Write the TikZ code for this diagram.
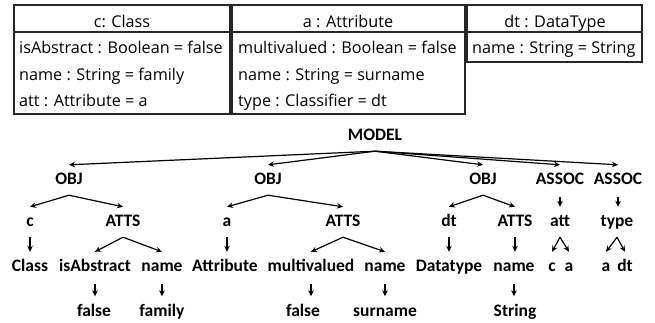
\documentclass[tikz,border=0pt]{standalone}
\usepackage{fontspec}
\setmainfont{Open Sans}
\newfontfamily\trf{Carlito}
\usetikzlibrary{arrows.meta}
\begin{document}
\begin{tikzpicture}[x=1pt,y=-1pt,
  tn/.style={font=\trf\bfseries\fontsize{17.5}{20}\selectfont, inner xsep=0pt, inner ysep=0pt, text height=12pt, text depth=3pt, minimum height=30pt},
  ar/.style={-{Stealth[length=6pt,width=5.5pt]}, line width=1.2pt},
  sar/.style={ar, shorten >=0.5pt, shorten <=2pt},
  aar/.style={ar, shorten <=2pt},
  bx/.style={line width=1.1pt, draw=black!85},
  bt/.style={font=\fontsize{16.2}{19}\selectfont, inner sep=0pt, anchor=base west},
  bh/.style={font=\fontsize{16.2}{19}\selectfont, inner sep=0pt, anchor=base}]
\useasboundingbox (0,0) rectangle (655,322);
% boxes
\draw[bx] (14,5) rectangle (230,114) (14,32) -- (230,32);
\draw[bx] (232,5) rectangle (465,114) (232,32) -- (465,32);
\draw[bx] (467,5) rectangle (642,62) (467,32) -- (642,32);
\node[bh] (h1) at (122,27) {c: Class};
\node[bt] (r11) at (19,53) {isAbstract : Boolean = false};
\node[bt] (r12) at (19,80) {name : String = family};
\node[bt] (r13) at (19,106) {att : Attribute = a};
\node[bh] (h2) at (348,27) {a : Attribute};
\node[bt] (r21) at (238,53) {multivalued : Boolean = false};
\node[bt] (r22) at (238,80) {name : String = surname};
\node[bt] (r23) at (238,106) {type : Classifier = dt};
\node[bh] (h3) at (555,27) {dt : DataType};
\node[bt] (r31) at (472,53) {name : String = String};
% tree
\node[tn] (model) at (375,136) {MODEL};
\node[tn] (obj1) at (69,180) {OBJ};
\node[tn] (obj2) at (268,180) {OBJ};
\node[tn] (obj3) at (483,180) {OBJ};
\node[tn] (as1) at (560,180) {ASSOC};
\node[tn] (as2) at (618,180) {ASSOC};
\node[tn] (c) at (30,222) {c};
\node[tn] (atts1) at (123,222) {ATTS};
\node[tn] (a) at (227,222) {a};
\node[tn] (atts2) at (343,222) {ATTS};
\node[tn] (dt) at (449,222) {dt};
\node[tn] (atts3) at (515,222) {ATTS};
\node[tn] (att) at (560,222) {att};
\node[tn] (type) at (617,222) {type};
\node[tn] (class) at (30,267) {Class};
\node[tn] (isab) at (95,267) {isAbstract};
\node[tn] (name1) at (162,267) {name};
\node[tn] (attr) at (225,267) {Attribute};
\node[tn] (multi) at (311,267) {multivalued};
\node[tn] (name2) at (385,267) {name};
\node[tn] (datat) at (449,267) {Datatype};
\node[tn] (name3) at (514,267) {name};
\node[tn] (c2) at (552,267) {c};
\node[tn] (a2) at (569,267) {a};
\node[tn] (a3) at (606,267) {a};
\node[tn] (dt2) at (625,267) {dt};
\node[tn] (false1) at (94,312) {false};
\node[tn] (family) at (162,312) {family};
\node[tn] (false2) at (303,312) {false};
\node[tn] (surname) at (385,312) {surname};
\node[tn] (string) at (515,312) {String};
% connectors
\foreach \t in {obj1,obj2,obj3,as1,as2} \draw[ar] (model.south) -- (\t.north);
\draw[ar] (obj1.south) -- (c.north);
\draw[ar] (obj1.south) -- (atts1.north);
\draw[ar] (obj2.south) -- (a.north);
\draw[ar] (obj2.south) -- (atts2.north);
\draw[ar] (obj3.south) -- (dt.north);
\draw[ar] (obj3.south) -- (atts3.north);
\draw[aar] (as1.south) -- (as1.south |- att.north);
\draw[aar] (as2.south) -- (as2.south |- type.north);
\draw[ar] (c.south) -- (c.south |- class.north);
\draw[ar] (atts1.south) -- (isab.north);
\draw[ar] (atts1.south) -- (name1.north);
\draw[ar] (a.south) -- (a.south |- attr.north);
\draw[ar] (atts2.south) -- (multi.north);
\draw[ar] (atts2.south) -- (name2.north);
\draw[ar] (dt.south) -- (dt.south |- datat.north);
\draw[ar] (atts3.south) -- (atts3.south |- name3.north);
\draw[ar] (att.south) -- (c2.north);
\draw[ar] (att.south) -- (a2.north);
\draw[ar] (type.south) -- (a3.north);
\draw[ar] (type.south) -- (dt2.north);
\draw[sar] (isab.south) -- (isab.south |- false1.north);
\draw[sar] (name1.south) -- (name1.south |- family.north);
\draw[sar] (multi.south) -- (multi.south |- false2.north);
\draw[sar] (name2.south) -- (name2.south |- surname.north);
\draw[sar] (name3.south) -- (name3.south |- string.north);
\end{tikzpicture}
\end{document}
